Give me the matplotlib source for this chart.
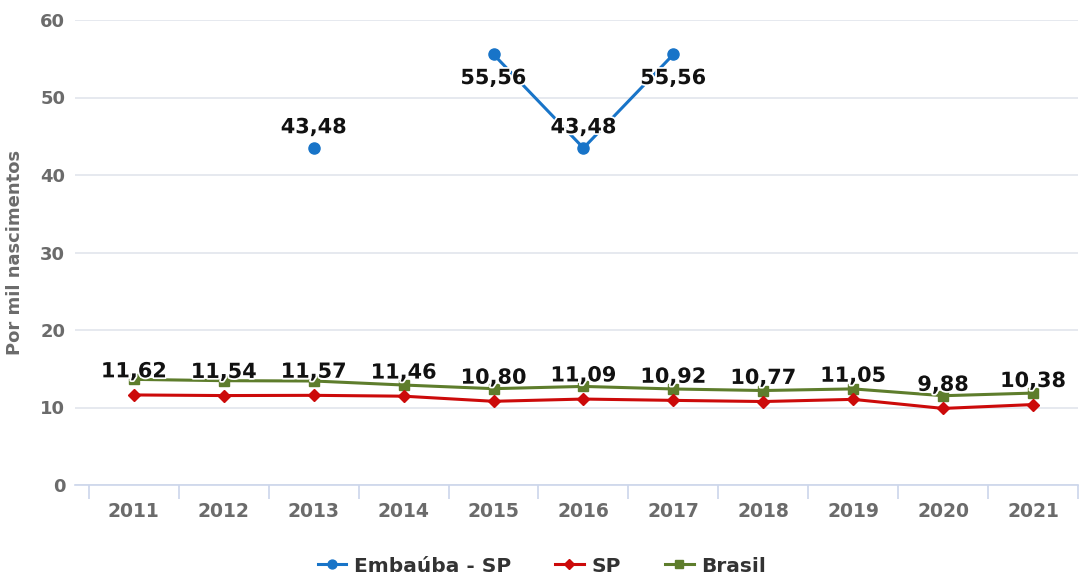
import numpy as np
import matplotlib
matplotlib.use("Agg")
import matplotlib.pyplot as plt
import matplotlib.patheffects as pe

years = ["2011", "2012", "2013", "2014", "2015", "2016", "2017", "2018", "2019", "2020", "2021"]
embauba = [np.nan, np.nan, 43.48, np.nan, 55.56, 43.48, 55.56, np.nan, np.nan, np.nan, np.nan]
sp = [11.62, 11.54, 11.57, 11.46, 10.80, 11.09, 10.92, 10.77, 11.05, 9.88, 10.38]
brasil = [13.63, 13.46, 13.42, 12.90, 12.43, 12.72, 12.39, 12.19, 12.40, 11.52, 11.86]
y_ticks = [0, 10, 20, 30, 40, 50, 60]

BLUE = "#1874c8"
RED = "#cc0a0a"
GREEN = "#5e7d2c"
GRID = "#e2e5ec"
TICK_GREY = "#6b6b6b"

plt.rcParams["font.family"] = ["DejaVu Sans"]

W, H = 1084, 579
fig = plt.figure(figsize=(W / 100, H / 100), dpi=100)

# axes geometry in pixels
px_left, px_right = 75, 1078
px_bottom, px_top = 485, 20
ax = fig.add_axes([px_left / W, 1 - px_bottom / H, (px_right - px_left) / W, (px_bottom - px_top) / H])

cat_px = 90.5
first_edge = 89
xmin = -0.5 - (first_edge - px_left) / cat_px
xmax = -0.5 + (px_right - first_edge) / cat_px
ax.set_xlim(xmin, xmax)
ax.set_ylim(0, 60)

x = np.arange(len(years))

ax.plot(x, brasil, color=GREEN, lw=2.2, marker="s", ms=7, mec=GREEN, mfc=GREEN, zorder=3, label="Brasil")
ax.plot(x, sp, color=RED, lw=2.2, marker="D", ms=6.5, mec=RED, mfc=RED, zorder=4, label="SP")
ax.plot(x, embauba, color=BLUE, lw=2.2, marker="o", ms=8, mec=BLUE, mfc=BLUE, zorder=5, label="Embaúba - SP")

halo = [pe.withStroke(linewidth=2.5, foreground="white")]

def fmt(v):
    return f"{v:.2f}".replace(".", ",")

for xi, v in zip(x, sp):
    ax.annotate(fmt(v), (xi, v), xytext=(0, 17), textcoords="offset points",
                ha="center", va="center", fontsize=15, fontweight="bold",
                color="#111111", path_effects=halo, zorder=6)

emb_offsets = {2: 15, 4: -17, 5: 15, 6: -17}
for xi, v in zip(x, embauba):
    if np.isnan(v):
        continue
    ax.annotate(fmt(v), (xi, v), xytext=(0, emb_offsets.get(xi, 15)), textcoords="offset points",
                ha="center", va="center", fontsize=15, fontweight="bold",
                color="#111111", path_effects=halo, zorder=6)

# grid and axes styling
ax.set_yticks(y_ticks)
ax.set_yticklabels([str(t) for t in y_ticks], fontsize=13, fontweight="bold", color=TICK_GREY)
ax.yaxis.grid(True, color=GRID, lw=1.2)
ax.set_axisbelow(True)
ax.tick_params(axis="y", length=0, pad=7)

ax.set_xticks(x)
ax.set_xticklabels(years, fontsize=13.5, fontweight="bold", color=TICK_GREY)
ax.tick_params(axis="x", which="major", length=0, pad=12)
ax.set_xticks(np.arange(-0.5, len(years) - 0.4, 1), minor=True)
ax.tick_params(axis="x", which="minor", length=10, width=1.2, color="#ccd6eb")

for s in ["top", "right", "left"]:
    ax.spines[s].set_visible(False)
ax.spines["bottom"].set_color("#ccd6eb")
ax.spines["bottom"].set_linewidth(1.2)

ax.set_ylabel("Por mil nascimentos", fontsize=13, fontweight="bold", color=TICK_GREY)
ax.yaxis.set_label_coords((24 - px_left) / (px_right - px_left), 0.5)

leg = fig.legend(handles=[ax.lines[2], ax.lines[1], ax.lines[0]],
                 loc="center", bbox_to_anchor=(0.5, 1 - 566 / H), ncol=3, frameon=False,
                 prop={"size": 14.5, "weight": "bold"}, handlelength=1.4, columnspacing=2.2,
                 handletextpad=0.4, markerscale=0.8)
for t in leg.get_texts():
    t.set_color("#333333")

fig.savefig("out.png", dpi=100)
